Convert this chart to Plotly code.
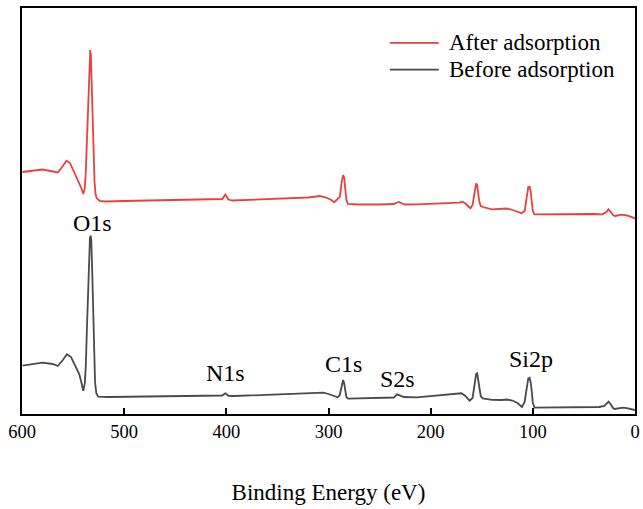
import plotly.graph_objects as go

# Binding energy (eV) and intensity (a.u.)
after_be = [599.5, 590, 580, 572, 565, 560, 556.5, 553, 549, 545, 542, 540, 538.5, 537.5, 536.5,
            535.5, 534.5, 533.5, 533.2, 532.6, 531.8, 531, 530, 529, 528, 527, 524, 519, 500,
            470, 440, 427, 410, 404, 401, 398, 394, 380, 350, 320, 312, 309, 304, 298, 294.5,
            289, 288, 287, 285.5, 284.5, 283.5, 282.5, 281, 270, 250, 236, 233, 231, 228, 225, 213.5, 190,
            172, 169, 166, 163, 161, 159, 158, 157, 155.5, 154.5, 153.5, 152.5, 151, 149, 140, 130, 126, 121, 115,
            111, 108, 107, 106, 104.5, 103.2, 102, 101, 100, 98.5, 80, 60, 40, 32, 28, 26, 24, 21,
            19.5, 16, 13, 8, 4, 0]
after_int = [242, 243, 244.5, 243, 241.5, 248, 253.3, 251, 242, 234, 226, 220, 226, 244, 274,
             309, 342, 362, 364, 359, 334, 299, 259, 232, 220, 216, 213, 212.5, 213,
             213.5, 214, 214.5, 214.5, 215, 219.5, 214.5, 213.5, 214, 215, 216.5, 217.5, 218, 217, 214.5, 211.7,
             217, 224, 233, 239, 235, 224, 214, 210, 209.5, 209.5, 210, 211.5, 212, 210.5, 209.5, 209.7, 210.5,
             211.3, 212.3, 210.5, 207.5, 205.7, 209, 215, 223, 230.7, 229, 222, 213, 208, 207, 204.7, 205.2, 205.5, 204.5, 202.5,
             200.7, 203, 210, 219, 227, 227.3, 222, 212, 203, 199.7, 200, 200, 200, 199.7, 202, 204.7, 202.5, 198.5,
             198, 199, 199.3, 198.5, 197, 195.7]

before_be = [599.5, 590, 580, 570, 565, 560, 556, 552, 548, 544, 542, 540, 538.5, 537.5, 536.5,
             535.5, 534.5, 533.5, 532.8, 532.2, 531.3, 530.5, 529.5, 528.5, 527.3, 525.5, 515, 500,
             460, 427, 410, 404, 401, 398, 392, 370, 340, 312, 305, 300, 295, 291, 289, 288, 287,
             285.7, 284.7, 283.7, 282.5, 281, 270, 250, 236, 233, 230, 226, 213.5, 190, 172, 169.9, 166,
             163, 161.8, 159, 158, 157, 155.5, 154.5, 153.5, 152.5, 151, 149, 140, 130, 126, 120, 115,
             110.7, 108, 107, 106, 104.5, 103.2, 102, 101, 100, 98.3, 80, 60, 35, 30, 27.5, 25.9, 24,
             21.5, 20, 16, 12, 8, 4, 0]
before_int = [48.3, 50, 51.3, 50, 48, 54, 59.7, 57, 48, 40, 32, 23.3, 31, 49, 84,
              124, 159, 176, 178.3, 174, 144, 104, 59, 32, 21, 17.3, 17, 17.2,
              17.5, 18, 18, 18.5, 20.7, 18.2, 18, 19, 20, 21, 21.3, 20, 18, 16.7, 19, 24, 30,
              34, 31, 24, 17, 15.3, 15.5, 16, 16.5, 19.7, 18.5, 17, 16.7, 18.5, 20, 20.7, 18,
              14.5, 13.3, 16, 23, 31, 40, 40.7, 35, 25, 18, 15.7, 14.2, 14, 14.5, 13.5, 11,
              7, 12, 19, 28, 35.5, 36.3, 31, 22, 11, 6.3, 6.5, 6.7, 7, 8, 10.5, 12.3, 10,
              6, 5, 6, 6.3, 5.8, 4.8, 4]

peak_labels = ["O1s", "N1s", "C1s", "S2s", "Si2p"]
peak_be = [531, 401, 285.5, 232, 102]
peak_int = [191, 41, 50, 35, 55]

series_names = ["After adsorption", "Before adsorption"]
series_colors = ["#E8413F", "#4A4A4A"]

tick_vals = [600, 500, 400, 300, 200, 100, 0]

FONT = "Liberation Serif, Times New Roman, serif"

fig = go.Figure()
for name, xs, ys, col in zip(series_names, [after_be, before_be], [after_int, before_int], series_colors):
    fig.add_trace(go.Scatter(x=xs, y=ys, mode="lines", name=name,
                             line=dict(color=col, width=1.8), showlegend=False))

for lab, xb, yi in zip(peak_labels, peak_be, peak_int):
    fig.add_annotation(x=xb, y=yi, text=lab, showarrow=False, xref="x", yref="y",
                       font=dict(family=FONT, size=24, color="black"))

# legend drawn as line samples + labels (paper coordinates)
leg_x0, leg_x1, leg_tx = 0.6, 0.68, 0.693
leg_rows = [0.914, 0.848]
for name, col, yy in zip(series_names, series_colors, leg_rows):
    fig.add_shape(type="line", xref="paper", yref="paper", x0=leg_x0, x1=leg_x1, y0=yy, y1=yy,
                  line=dict(color=col, width=1.8))
    fig.add_annotation(xref="paper", yref="paper", x=leg_tx, y=yy, text=name, showarrow=False,
                       xanchor="left", yanchor="middle",
                       font=dict(family=FONT, size=23, color="black"))

fig.update_layout(
    width=643, height=509,
    margin=dict(l=22, r=3, t=8, b=95),
    paper_bgcolor="white", plot_bgcolor="white",
    font=dict(family=FONT, color="black"),
    showlegend=False,
    xaxis=dict(range=[600, 0], tickvals=tick_vals, ticks="inside", ticklen=6, tickwidth=1.5,
               tickcolor="black", showline=True, linecolor="black", linewidth=1.5, mirror=True,
               showgrid=False, zeroline=False, tickfont=dict(family=FONT, size=18.5, color="black"),
               title=dict(text="Binding Energy (eV)", font=dict(family=FONT, size=23, color="black"),
                          standoff=43)),
    yaxis=dict(range=[0, 406], showticklabels=False, ticks="", showline=True, linecolor="black",
               linewidth=1.5, mirror=True, showgrid=False, zeroline=False),
)

fig.write_html("out.html")
